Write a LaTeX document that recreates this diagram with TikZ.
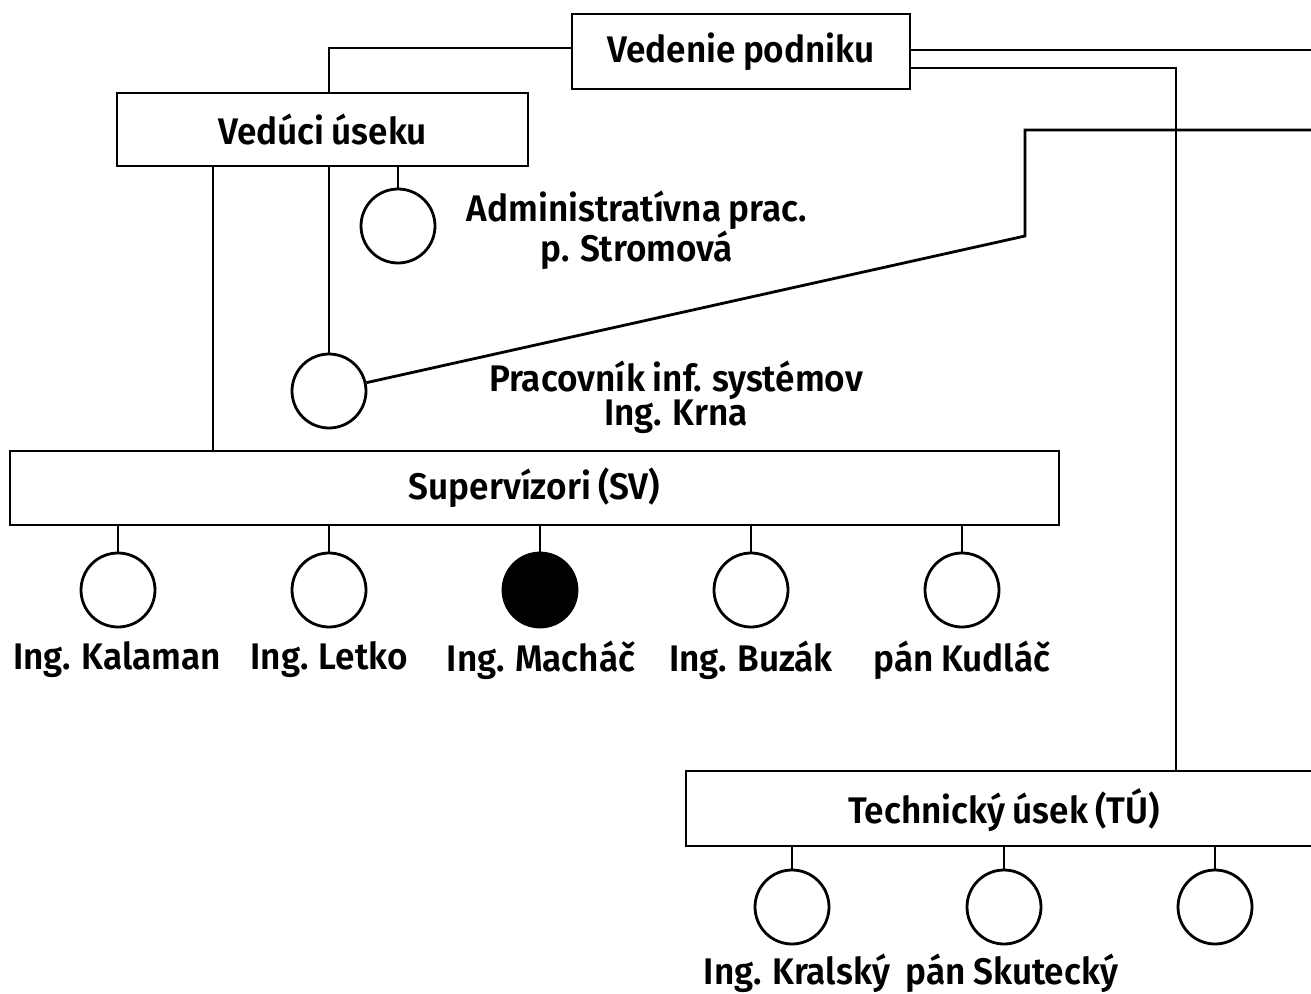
\documentclass[tikz,border=0pt]{standalone}
\usepackage{fontspec}
\setmainfont{Fira Sans}
\usetikzlibrary{calc}
\newfontfamily\lbfont{Fira Sans SemiBold}[FakeStretch=0.95, WordSpace=0.85]
\begin{document}
\begin{tikzpicture}[x=1pt,y=-1pt, line width=2.8pt,
  box/.style={draw, rectangle, inner sep=0, font=\lbfont\fontsize{37}{34}\selectfont},
  person/.style={draw, circle, minimum size=74pt, inner sep=0},
  lbl/.style={font=\lbfont\fontsize{37}{34}\selectfont, align=center, inner sep=0}]
\useasboundingbox (0,0) rectangle (1311,993);
\clip (0,0) rectangle (1311,993);
% boxes
\node[box, minimum width=338pt, minimum height=75pt] (ved) at (741,51.5) {Vedenie podniku};
\node[box, minimum width=411pt, minimum height=73pt] (vu) at (322.5,129.5) {Vedúci úseku};
\node[box, minimum width=1049pt, minimum height=74pt] (sv) at (534.5,488) {Supervízori (SV)};
\node[box, minimum width=644pt, minimum height=75pt] (tu) at (1008,808.5) {};
\node[lbl] (tutext) at (1004,810) {Technický úsek (TÚ)};
% persons
\node[person] (adm) at (398,226) {};
\node[lbl] (admtext) at (637,230) {Administratívna prac.\\p. Stromová};
\node[person] (krna) at (329,391) {};
\node[lbl] (krnatext) at (676,397) {Pracovník inf. systémov\\Ing. Krna};
\node[person] (s1) at (118,590) {};
\node[person] (s2) at (329,590) {};
\node[person, fill=black] (s3) at (540,590) {};
\node[person] (s4) at (751,590) {};
\node[person] (s5) at (962,590) {};
\node[lbl] (s1t) at (117,660) {Ing. Kalaman};
\node[lbl] (s2t) at (329,660) {Ing. Letko};
\node[lbl] (s3t) at (541,660) {Ing. Macháč};
\node[lbl] (s4t) at (751,660) {Ing. Buzák};
\node[lbl] (s5t) at (962,660) {pán Kudláč};
\node[person] (t1) at (792,907) {};
\node[person] (t2) at (1004,907) {};
\node[person] (t3) at (1215,907) {};
\node[lbl] (t1t) at (797,973) {Ing. Kralský};
\node[lbl] (t2t) at (1012,973) {pán Skutecký};
% coordinates
\coordinate (vux) at (329,48);
\coordinate (svx) at (213,0);
\coordinate (r1) at (1320,50);
\coordinate (tux) at (1176,68);
\coordinate (k1) at (1025,236);
\coordinate (k2) at (1025,130);
\coordinate (k3) at (1320,130);
% connectors
\draw (ved.west |- vux) -- (vux) -- (vu.north -| vux);
\draw (ved.east |- r1) -- (r1);
\draw (ved.east |- tux) -- (tux) -- (tu.north -| tux);
\draw (vu.south -| svx) -- (sv.north -| svx);
\draw (vu.south -| krna) -- (krna);
\draw (vu.south -| adm) -- (adm);
\draw (krna) -- (k1) -- (k2) -- (k3);
\foreach \n in {s1,s2,s3,s4,s5} \draw (sv.south -| \n) -- (\n);
\foreach \n in {t1,t2,t3} \draw (tu.south -| \n) -- (\n);
\end{tikzpicture}
\end{document}
